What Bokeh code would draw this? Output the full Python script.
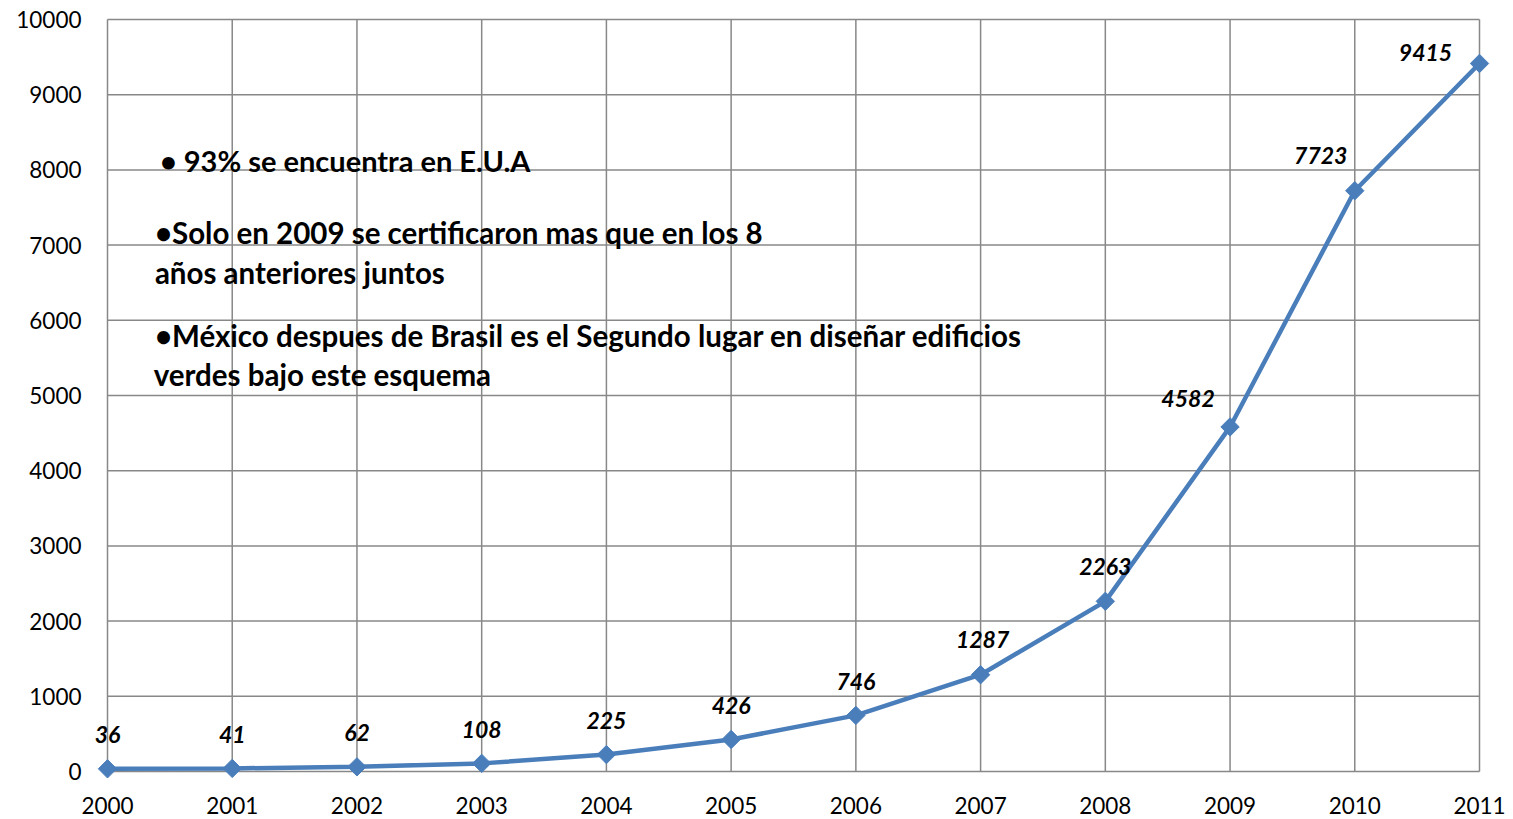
from bokeh.plotting import figure
from bokeh.models import ColumnDataSource, FixedTicker, Range1d, Label, LabelSet
from bokeh.core.properties import value
from bokeh.embed import file_html
from bokeh.resources import INLINE
import math

years = [2000, 2001, 2002, 2003, 2004, 2005, 2006, 2007, 2008, 2009, 2010, 2011]
counts = [36, 41, 62, 108, 225, 426, 746, 1287, 2263, 4582, 7723, 9415]
y_ticks = list(range(0, 10001, 1000))

notes = [
    "\u2022 93% se encuentra en E.U.A",
    "\u2022Solo en 2009 se certificaron mas que en los 8",
    "a\u00f1os anteriores juntos",
    "\u2022M\u00e9xico despues de Brasil es el Segundo lugar en dise\u00f1ar edificios",
    "verdes bajo este esquema",
]
note_x = [2000.42, 2000.38, 2000.38, 2000.38, 2000.37]
note_y = [8125, 7168, 6636, 5798, 5279]

# label offsets (screen px) for data labels
lab_dx = [0, 0, 0, 0, 0, 0, 0, 2, 0, -42, -34, -54]
lab_dy = [34, 34, 34, 34, 34, 34, 34, 35, 35, 28, 35, 11]

FONT = "Lato"
BLUE = "#4A7EBB"
GRID = "#888888"

# frame geometry: data box 2000..2011 spans 1372px, 0..10000 spans 752px, padded
PAD = 15
FW, FH = 1372 + 2 * PAD, 752 + 2 * PAD
xpad = PAD * 11 / 1372
ypad = PAD * 10000 / 752

p = figure(frame_width=FW, frame_height=FH, output_backend="svg", toolbar_location=None,
           x_range=Range1d(2000 - xpad, 2011 + xpad), y_range=Range1d(-ypad, 10000 + ypad),
           min_border_left=107 - PAD, min_border_right=14, min_border_top=19 - PAD,
           min_border_bottom=32)
p.outline_line_color = None
p.xgrid.visible = False
p.ygrid.visible = False

# grid lines
p.segment(x0=years, y0=[0] * len(years), x1=years, y1=[10000] * len(years),
          line_color=GRID, line_width=1.5)
p.segment(x0=[2000] * len(y_ticks), y0=y_ticks, x1=[2011] * len(y_ticks), y1=y_ticks,
          line_color=GRID, line_width=1.5)

src = ColumnDataSource(dict(x=years, y=counts, lab=[str(c) for c in counts], dx=lab_dx, dy=lab_dy))

p.line("x", "y", source=src, line_color=BLUE, line_width=4.5)
p.scatter("x", "y", source=src, marker="square", size=13, angle=math.pi / 4,
          fill_color=BLUE, line_color=BLUE)

p.add_layout(LabelSet(x="x", y="y", text="lab", source=src, x_offset="dx", y_offset="dy",
                      text_font=value(FONT), text_font_style="bold italic",
                      text_font_size=value("23px"),
                      text_align="center", text_baseline="middle", text_color="black"))

note_sizes = ["29px", "29.5px", "29.5px", "29.5px", "29.5px"]
for t, xx, yy, fs in zip(notes, note_x, note_y, note_sizes):
    p.add_layout(Label(x=xx, y=yy, text=t, text_font=FONT, text_font_style="bold",
                       text_font_size=fs, text_baseline="middle", text_align="left",
                       text_color="black"))

p.xaxis.ticker = FixedTicker(ticks=years)
p.yaxis.ticker = FixedTicker(ticks=y_ticks)
for ax in (p.xaxis, p.yaxis):
    ax.axis_line_color = None
    ax.major_tick_line_color = None
    ax.minor_tick_line_color = None
    ax.major_label_text_font = FONT
    ax.major_label_text_font_size = "22.5px"
    ax.major_label_text_color = "black"
p.xaxis.major_label_standoff = 4
p.yaxis.major_label_standoff = 5

open("out.html", "w").write(file_html(p, INLINE))
